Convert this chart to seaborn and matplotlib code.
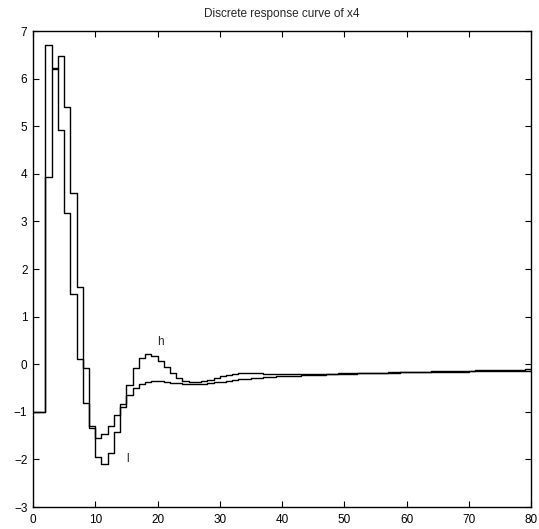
import matplotlib
matplotlib.use("Agg")
import matplotlib.pyplot as plt
import seaborn as sns
import numpy as np
import pandas as pd

# Data
steps = list(range(0, 81))
series_a = [-1.0, -1.0, 6.71, 6.22, 4.91, 3.17, 1.47, 0.11, -0.82, -1.29,
            -1.54, -1.47, -1.29, -1.06, -0.84, -0.65, -0.49, -0.42, -0.38, -0.36,
            -0.36, -0.37, -0.39, -0.40, -0.41, -0.420, -0.418, -0.410, -0.398, -0.382,
            -0.364, -0.346, -0.330, -0.316, -0.303, -0.292, -0.282, -0.273, -0.265, -0.258,
            -0.251, -0.245, -0.239, -0.234, -0.229, -0.224, -0.219, -0.214, -0.210, -0.205,
            -0.201, -0.197, -0.193, -0.189, -0.185, -0.181, -0.177, -0.174, -0.170, -0.167,
            -0.163, -0.160, -0.157, -0.154, -0.151, -0.148, -0.145, -0.142, -0.139, -0.136,
            -0.134, -0.131, -0.128, -0.126, -0.123, -0.121, -0.118, -0.116, -0.113, -0.111,
            -0.109]
series_b = [-1.0, -1.0, 3.93, 6.20, 6.48, 5.40, 3.59, 1.63, -0.09, -1.33,
            -1.96, -2.10, -1.87, -1.42, -0.89, -0.44, -0.09, 0.14, 0.22, 0.17,
            0.06, -0.06, -0.18, -0.29, -0.35, -0.380, -0.378, -0.360, -0.325, -0.285,
            -0.250, -0.222, -0.203, -0.193, -0.189, -0.190, -0.194, -0.199, -0.203, -0.207,
            -0.209, -0.210, -0.210, -0.209, -0.207, -0.205, -0.203, -0.200, -0.198, -0.195,
            -0.193, -0.190, -0.188, -0.186, -0.183, -0.181, -0.179, -0.177, -0.175, -0.173,
            -0.171, -0.169, -0.167, -0.165, -0.163, -0.161, -0.159, -0.158, -0.156, -0.154,
            -0.153, -0.151, -0.149, -0.148, -0.146, -0.145, -0.143, -0.142, -0.140, -0.139,
            -0.138]
x_ticks = [0, 10, 20, 30, 40, 50, 60, 70, 80]
y_ticks = [-3, -2, -1, 0, 1, 2, 3, 4, 5, 6, 7]
title = "Discrete response curve of x4"
label_h = ("h", 20.5, 0.47)
label_l = ("l", 15.2, -2.0)

sns.set_style("ticks")
plt.rcParams['font.family'] = ['Liberation Sans', 'DejaVu Sans']

fig = plt.figure(figsize=(5.39, 5.29), dpi=100)
ax = fig.add_axes([33/539, 1 - 507/529, (531 - 33)/539, (507 - 31)/529])

df = pd.DataFrame({"k": steps, "a": series_a, "b": series_b})
sns.lineplot(data=df, x="k", y="a", ax=ax, color="black", lw=1.0,
             drawstyle="steps-post", estimator=None)
sns.lineplot(data=df, x="k", y="b", ax=ax, color="black", lw=1.0,
             drawstyle="steps-post", estimator=None)

ax.text(label_h[1], label_h[2], label_h[0], ha="center", va="center", fontsize=8.5)
ax.text(label_l[1], label_l[2], label_l[0], ha="center", va="center", fontsize=8.5)

ax.set_xlim(0, 80)
ax.set_ylim(-3, 7)
ax.set_xticks(x_ticks)
ax.set_yticks(y_ticks)
ax.set_xlabel("")
ax.set_ylabel("")
ax.set_title(title, fontsize=8.5, pad=10)
ax.tick_params(direction="in", length=4, width=0.8, top=True, right=True,
               labelsize=8.5, colors="black")
ax.tick_params(axis="x", pad=5)
ax.tick_params(axis="y", pad=4)
for s in ax.spines.values():
    s.set_visible(True)
    s.set_color("black")
    s.set_linewidth(1.0)

fig.savefig("out.png", dpi=100)
